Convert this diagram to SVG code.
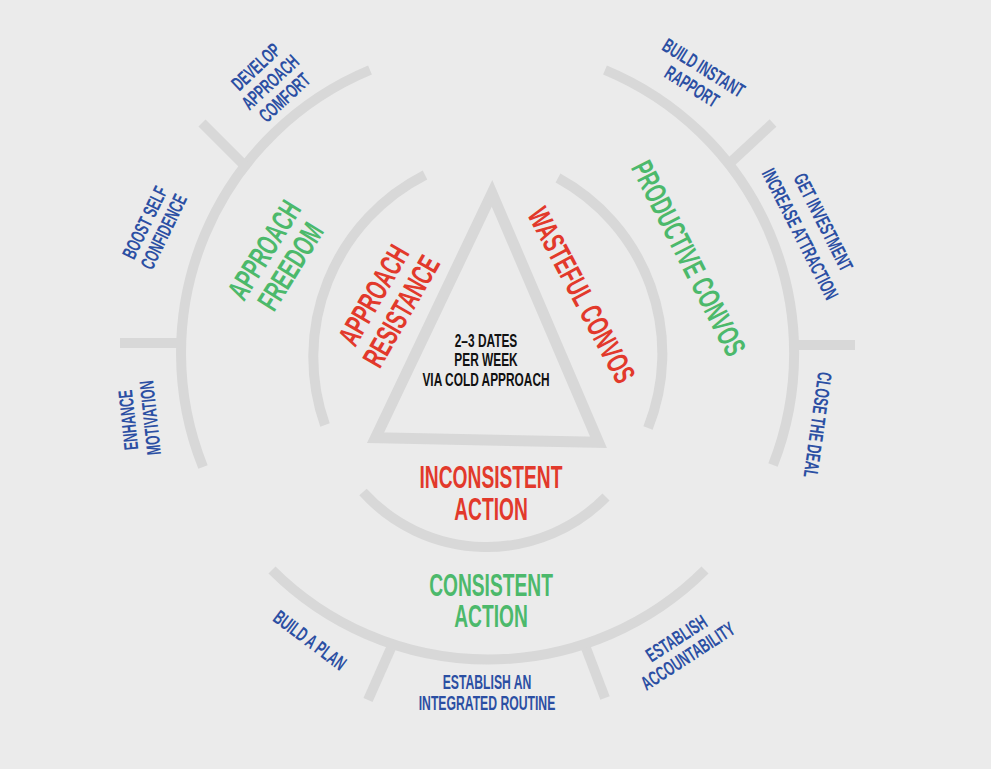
<svg xmlns="http://www.w3.org/2000/svg" width="991" height="769" viewBox="0 0 991 769">
<style>
.arc{fill:none;stroke:#d8d8d8;stroke-width:10;stroke-linecap:butt}
.tri{fill:none;stroke:#d8d8d8;stroke-width:11;stroke-linejoin:miter}
text{font-family:"Liberation Sans",Arial,sans-serif;font-weight:bold;text-anchor:middle}
.big{font-size:30.5px}
.sm{font-size:20px;fill:#2b4fa3}
.ctr{font-size:18px;fill:#111}
.red{fill:#e2392b}
.grn{fill:#4cb96b}
</style>
<rect width="991" height="769" fill="#ebebeb"/>
<g id="connectors">
  <path class="arc" d="M 370 70 A 306.5 306.5 0 0 0 203 467"/>
  <path class="arc" d="M 605 70 A 306.5 306.5 0 0 1 773 465"/>
  <path class="arc" d="M 272 570 A 306.5 306.5 0 0 0 705 570"/>
  <path class="arc" d="M 425 175 A 204 204 0 0 0 325 425"/>
  <path class="arc" d="M 558 178 A 200 200 0 0 1 648 428"/>
  <path class="arc" d="M 363 492 A 167 167 0 0 0 606 497"/>
  <line class="arc" x1="202" y1="123" x2="244" y2="165"/>
  <line class="arc" x1="120" y1="343" x2="184" y2="343"/>
  <line class="arc" x1="773" y1="123" x2="731" y2="162"/>
  <line class="arc" x1="855" y1="345" x2="793" y2="345"/>
  <line class="arc" x1="368" y1="700" x2="391" y2="648"/>
  <line class="arc" x1="605" y1="698" x2="586" y2="648"/>
</g>
<g id="triangle">
  <polygon class="tri" points="492,193.4 375.6,437.7 598.5,442.3"/>
  <g transform="translate(486,360)"><text class="ctr" transform="scale(0.66,1)"><tspan x="0" y="-13.05">2–3 DATES</tspan><tspan x="0" y="6.45">PER WEEK</tspan><tspan x="0" y="25.95">VIA COLD APPROACH</tspan></text></g>
</g>
<g id="inconsistent-action" transform="translate(491,493)"><text class="big red" transform="scale(0.63,1)"><tspan x="0" y="-4.85">INCONSISTENT</tspan><tspan x="0" y="26.65">ACTION</tspan></text></g>
<g id="consistent-action" transform="translate(491,601)"><text class="big grn" transform="scale(0.63,1)"><tspan x="0" y="-4.6">CONSISTENT</tspan><tspan x="0" y="26.4">ACTION</tspan></text></g>
<g id="approach-resistance" transform="translate(387,303) rotate(-60)"><text class="big red" transform="scale(0.63,1)"><tspan x="0" y="-5.1">APPROACH</tspan><tspan x="0" y="26.9">RESISTANCE</tspan></text></g>
<g id="wasteful-convos" transform="translate(582,295) rotate(62)"><text class="big red" transform="scale(0.63,1)" y="10.9">WASTEFUL CONVOS</text></g>
<g id="approach-freedom" transform="translate(277,258) rotate(-58)"><text class="big grn" transform="scale(0.63,1)"><tspan x="0" y="-4.6">APPROACH</tspan><tspan x="0" y="26.4">FREEDOM</tspan></text></g>
<g id="productive-convos" transform="translate(689,258) rotate(63)"><text class="big grn" transform="scale(0.63,1)" y="10.9">PRODUCTIVE CONVOS</text></g>
<g id="develop-approach-comfort" transform="translate(270,82) rotate(-43)"><text class="sm" transform="scale(0.61,1)"><tspan x="0" y="-13.85">DEVELOP</tspan><tspan x="0" y="7.15">APPROACH</tspan><tspan x="0" y="28.15">COMFORT</tspan></text></g>
<g id="boost-self-confidence" transform="translate(154,227) rotate(-64)"><text class="sm" transform="scale(0.61,1)"><tspan x="0" y="-3.35">BOOST SELF</tspan><tspan x="0" y="17.65">CONFIDENCE</tspan></text></g>
<g id="enhance-motivation" transform="translate(139,419) rotate(-96)"><text class="sm" transform="scale(0.61,1)"><tspan x="0" y="-3.85">ENHANCE</tspan><tspan x="0" y="18.15">MOTIVATION</tspan></text></g>
<g id="build-instant-rapport" transform="translate(698,77) rotate(32)"><text class="sm" transform="scale(0.61,1)"><tspan x="0" y="-3.85">BUILD INSTANT</tspan><tspan x="0" y="18.15">RAPPORT</tspan></text></g>
<g id="get-investment" transform="translate(812,228) rotate(63)"><text class="sm" transform="scale(0.61,1)"><tspan x="0" y="-5.85">GET INVESTMENT</tspan><tspan x="0" y="20.15">INCREASE ATTRACTION</tspan></text></g>
<g id="close-the-deal" transform="translate(818,425) rotate(98)"><text class="sm" transform="scale(0.61,1)" y="7.15">CLOSE THE DEAL</text></g>
<g id="build-a-plan" transform="translate(310,640) rotate(37)"><text class="sm" transform="scale(0.61,1)" y="7.15">BUILD A PLAN</text></g>
<g id="integrated-routine" transform="translate(487,692)"><text class="sm" transform="scale(0.61,1)"><tspan x="0" y="-3.35">ESTABLISH AN</tspan><tspan x="0" y="17.65">INTEGRATED ROUTINE</tspan></text></g>
<g id="accountability" transform="translate(682,647) rotate(-33)"><text class="sm" transform="scale(0.61,1)"><tspan x="0" y="-3.35">ESTABLISH</tspan><tspan x="0" y="17.65">ACCOUNTABILITY</tspan></text></g>
</svg>
